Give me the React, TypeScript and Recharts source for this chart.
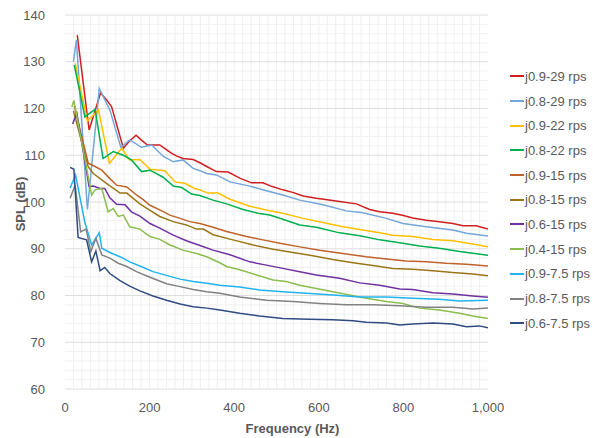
import { LineChart, Line, XAxis, YAxis, ReferenceLine } from 'recharts'

type Pt = [number, number]

// [frequency Hz, SPL dB]
const j09_29: Pt[] = [[29,135.7],[57,115.4],[84,123.3],[97,122],[110,120.4],[138,111.5],[152,113],[168,114.3],[180,113.3],[195,112.2],[210,112.2],[224,112.2],[238,111.3],[252,110.4],[265,109.8],[279,109.3],[303,109.1],[319,108.4],[335,107.6],[358,106.5],[386,106.4],[413,105.1],[441,104.1],[468,104.1],[490,103.3],[515,102.6],[540,102],[563,101.3],[594,100.8],[620,100.5],[649,100.1],[689,99.6],[720,98.4],[744,97.9],[775,97.6],[800,97.1],[822,96.6],[854,96.1],[885,95.8],[917,95.4],[941,94.9],[972,94.9],[1000,94.2]]
const j08_29: Pt[] = [[20,130],[27,134.7],[53,98.4],[81,124.3],[106,119.7],[132,111.7],[153,113.3],[181,111.7],[205,112.2],[232,109.8],[256,108.6],[279,109],[303,107.2],[319,106.7],[335,106.1],[358,105.8],[390,104.3],[437,103.4],[476,102.4],[515,101.5],[555,100.4],[610,99.4],[665,98.1],[704,97.7],[760,96.5],[799,95.4],[854,94.7],[917,94],[949,93.3],[1000,92.7]]
const j09_22: Pt[] = [[24,129.7],[53,117.3],[79,119.7],[105,108.3],[134,111.5],[153,109],[177,109.1],[201,107],[236,106.7],[260,104.3],[283,104],[307,102.9],[319,102.6],[338,101.9],[362,101.9],[390,100.6],[437,99.1],[476,98.3],[515,97.6],[563,96.5],[610,95.6],[657,94.7],[704,94],[744,93.4],[775,92.9],[822,92.6],[870,92],[917,91.7],[964,91],[1000,90.4]]
const j08_22: Pt[] = [[22,129.3],[47,118.2],[71,119.8],[90,109.3],[114,110.8],[138,110],[157,109],[181,106.5],[201,106.8],[232,105.3],[256,103.4],[276,103.1],[299,101.7],[319,101.4],[350,100.4],[382,99.6],[421,98.4],[456,97.6],[484,97.2],[515,96.3],[555,95.1],[594,94.6],[649,93.4],[697,92.8],[744,91.9],[791,91.3],[838,90.6],[885,90.1],[933,89.4],[1000,88.6]]
const j09_15: Pt[] = [[22,120.5],[55,108.3],[71,107.6],[87,106.8],[106,105],[122,103.6],[146,103.2],[169,101.5],[185,100.5],[201,99.3],[224,98.3],[248,97.2],[272,96.5],[295,95.8],[319,95.4],[350,94.6],[382,93.7],[429,92.6],[468,91.9],[508,91.2],[555,90.4],[602,89.7],[665,88.9],[712,88.3],[760,87.8],[807,87.4],[854,87.2],[901,86.9],[949,86.7],[1000,86.3]]
const j08_15: Pt[] = [[20,119.5],[55,107.5],[67,106.1],[98,104],[130,101.9],[146,101.9],[177,99.6],[201,98.2],[224,96.9],[256,95.8],[287,95.1],[311,94.2],[327,94.2],[350,93],[397,91.9],[445,90.8],[492,89.9],[539,89.2],[586,88.5],[633,87.7],[681,87],[728,86.4],[775,85.8],[822,85.6],[870,85.3],[917,84.9],[964,84.6],[1000,84.2]]
const j06_15: Pt[] = [[18,116.7],[28,119],[57,103.3],[67,103.4],[83,102.9],[94,102.9],[106,100.9],[122,99.5],[142,99.4],[157,97.9],[177,97],[201,95.4],[224,94.4],[256,92.9],[287,91.7],[319,90.7],[350,89.7],[390,88.7],[437,87.2],[476,86.5],[515,85.8],[555,85.1],[594,84.4],[649,83.7],[697,82.7],[744,82.2],[791,81.4],[822,81.3],[870,80.6],[917,80.3],[964,79.9],[1000,79.6]]
const j04_15: Pt[] = [[16,120.3],[21,121.7],[63,101.5],[71,102.6],[87,102.9],[102,97.9],[114,98.6],[126,96.9],[138,97.2],[153,94.7],[177,94.2],[201,92.6],[224,92],[248,90.8],[279,89.7],[311,89],[335,88.3],[366,87],[382,86.2],[413,85.5],[453,84.4],[492,83.3],[523,83],[555,82.2],[594,81.5],[633,80.8],[673,80.1],[712,79.4],[760,78.7],[799,78.3],[838,77.3],[885,76.9],[933,76.2],[964,75.6],[1000,75.1]]
const j09_75: Pt[] = [[12,103],[25,105.8],[47,95.6],[63,90.8],[81,93.4],[87,90.1],[106,89.2],[130,88.3],[153,87.2],[177,86.3],[208,85.1],[240,84.3],[272,83.5],[303,83],[335,82.6],[366,82.2],[413,81.8],[460,81.2],[515,80.8],[571,80.5],[633,80.1],[697,79.7],[760,79.7],[822,79.4],[885,79.2],[933,78.8],[1000,79]]
const j08_75: Pt[] = [[12,100.8],[24,103.6],[37,93.6],[50,94.2],[61,89.4],[73,92.2],[87,88.7],[106,88],[126,86.9],[146,86.2],[169,85.1],[201,83.9],[240,82.5],[272,81.9],[303,81.3],[335,80.8],[366,80.5],[413,79.7],[476,79],[539,78.7],[602,78.3],[665,78],[728,78],[791,77.8],[854,77.5],[917,77.5],[964,77.1],[1000,77.3]]
const j06_75: Pt[] = [[12,107.4],[21,107],[31,92.4],[51,91.9],[63,87.2],[73,89.5],[83,85.3],[94,86],[106,84.7],[130,83.2],[153,82],[177,81],[208,79.9],[240,79],[272,78.2],[303,77.6],[335,77.3],[366,76.9],[413,76.2],[460,75.6],[515,75.1],[578,74.9],[633,74.8],[681,74.6],[712,74.3],[760,74.1],[791,73.7],[822,73.9],[870,74.1],[917,73.9],[949,73.3],[980,73.5],[1000,73.1]]

const seriesNames = ['j0.9-29 rps', 'j0.8-29 rps', 'j0.9-22 rps', 'j0.8-22 rps', 'j0.9-15 rps', 'j0.8-15 rps', 'j0.6-15 rps', 'j0.4-15 rps', 'j0.9-7.5 rps', 'j0.8-7.5 rps', 'j0.6-7.5 rps']
const seriesData = [j09_29, j08_29, j09_22, j08_22, j09_15, j08_15, j06_15, j04_15, j09_75, j08_75, j06_75]
const colors = ['#d01f1f', '#72a6dc', '#ffc000', '#00b050', '#c0622a', '#9a7618', '#7030a0', '#8bbd4f', '#1fb4ef', '#828282', '#2f4b82']

const xTicks = [0, 200, 400, 600, 800, 1000]
const yTicks = [60, 70, 80, 90, 100, 110, 120, 130, 140]
const xMinor = Array.from({ length: 49 }, (_, i) => (i + 1) * 20)
const yMinor = Array.from({ length: 39 }, (_, i) => 62 + i * 2).filter(v => v % 10 !== 0)

const font = '"Liberation Sans", Arial, sans-serif'

export default function App() {
  return (
    <div style={{ position: 'absolute', left: 0, top: 0, width: 593, height: 438, background: '#fff', fontFamily: font }}>
      <LineChart width={593} height={438} margin={{ top: 15, right: 105, bottom: 19, left: 0 }}>
        {xMinor.map(x => (
          <ReferenceLine key={'x' + x} x={x} stroke="#efefef" strokeWidth={1} />
        ))}
        {yMinor.map(y => (
          <ReferenceLine key={'y' + y} y={y} stroke="#f1f1f1" strokeWidth={1} />
        ))}
        {yTicks.map(y => (
          <ReferenceLine key={'Y' + y} y={y} stroke="#dedede" strokeWidth={1} />
        ))}
        <XAxis
          type="number"
          dataKey="f"
          domain={[0, 1000]}
          ticks={xTicks}
          allowDataOverflow
          axisLine={false}
          tickLine={false}
          height={30}
          tickMargin={8}
          tick={{ fill: '#595959', fontSize: 13, fontFamily: font }}
          tickFormatter={(v: number) => v.toLocaleString('en-US')}
          label={{ value: 'Frequency (Hz)', position: 'insideBottom', offset: -14, dx: 16, fill: '#595959', fontSize: 13, fontWeight: 'bold', fontFamily: font }}
        />
        <YAxis
          type="number"
          domain={[60, 140]}
          ticks={yTicks}
          allowDataOverflow
          axisLine={false}
          tickLine={false}
          width={65}
          tickMargin={14}
          tick={{ fill: '#595959', fontSize: 13, fontFamily: font }}
          label={{ value: 'SPL (dB)', angle: -90, position: 'insideLeft', offset: 20, dy: 2, fill: '#595959', fontSize: 13, fontWeight: 'bold', fontFamily: font, style: { textAnchor: 'middle' } }}
        />
        {seriesData.map((d, i) => (
          <Line
            key={seriesNames[i]}
            data={d.map(([f, v]) => ({ f, v }))}
            dataKey="v"
            name={seriesNames[i]}
            stroke={colors[i]}
            strokeWidth={1.5}
            dot={false}
            isAnimationActive={false}
          />
        ))}
      </LineChart>
      <div style={{ position: 'absolute', left: 510, top: 64, fontSize: 13, color: '#595959' }}>
        {seriesNames.map((n, i) => (
          <div key={n} style={{ display: 'flex', alignItems: 'center', height: 24.7, whiteSpace: 'nowrap' }}>
            <span style={{ display: 'inline-block', width: 14, height: 2, background: colors[i], marginRight: 1 }} />
            <span>{n}</span>
          </div>
        ))}
      </div>
    </div>
  )
}
